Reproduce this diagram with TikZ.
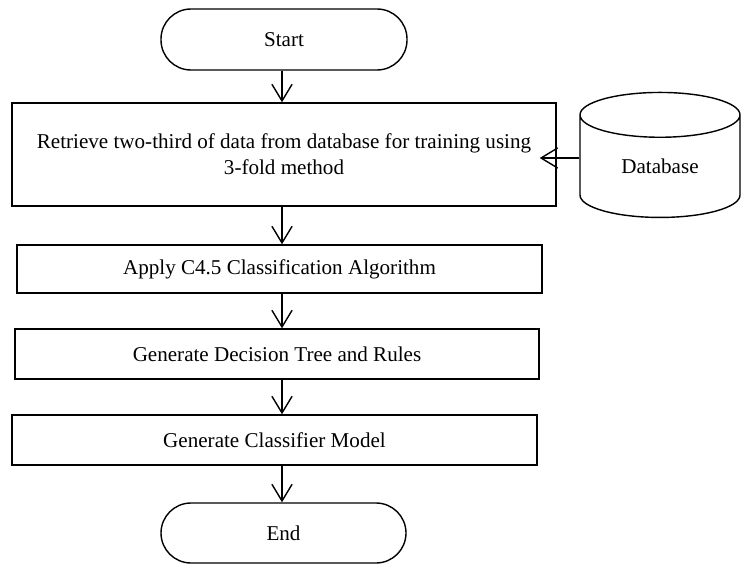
\documentclass[tikz,border=0pt]{standalone}
\usepackage{fontspec}
\setmainfont{Liberation Serif}
\usepackage{tikz}
\usetikzlibrary{positioning, arrows.meta, shapes.geometric}

\begin{document}
\begin{tikzpicture}[
  font=\fontsize{12}{15}\selectfont,
  box/.style={draw, line width=0.8pt, fill=white, inner sep=0pt, align=center},
  term/.style={box, rounded corners=0.6cm},
  arr/.style={->, >={Straight Barb[length=9.5pt, width=11.5pt]}, line width=0.8pt}
]
\useasboundingbox (0,0) rectangle (14.84,11.28);
\coordinate (spine) at (5.64,0);
\node[term, minimum width=4.92cm, minimum height=1.22cm] (start) at (5.68,10.49) {Start};
\node[box, minimum width=10.88cm, minimum height=2.06cm] (ret) at (5.68,8.19) {Retrieve two-third of data from database for training using\\3-fold method};
\node[box, minimum width=10.50cm, minimum height=0.96cm] (apply) at (5.59,5.90) {Apply C4.5 Classification Algorithm};
\node[box, minimum width=10.48cm, minimum height=1.00cm] (tree) at (5.54,4.20) {Generate Decision Tree and Rules};
\node[box, minimum width=10.50cm, minimum height=1.00cm] (model) at (5.49,2.48) {Generate Classifier Model};
\node[term, minimum width=4.90cm, minimum height=1.20cm] (end) at (5.67,0.62) {End};
\node[box, cylinder, shape border rotate=90, aspect=0.58, minimum width=3.2cm, minimum height=2.5cm] (db) at (13.20,7.95) {Database};
\draw[arr] (start.south -| spine) -- (ret.north -| spine);
\draw[arr] (ret.south -| spine) -- (apply.north -| spine);
\draw[arr] (apply.south -| spine) -- (tree.north -| spine);
\draw[arr] (tree.south -| spine) -- (model.north -| spine);
\draw[arr] (model.south -| spine) -- (end.north -| spine);
\draw[arr] ([yshift=0.17cm]db.west) -- ([xshift=-0.34cm, yshift=0.17cm]db.west -| ret.east);
\end{tikzpicture}
\end{document}
